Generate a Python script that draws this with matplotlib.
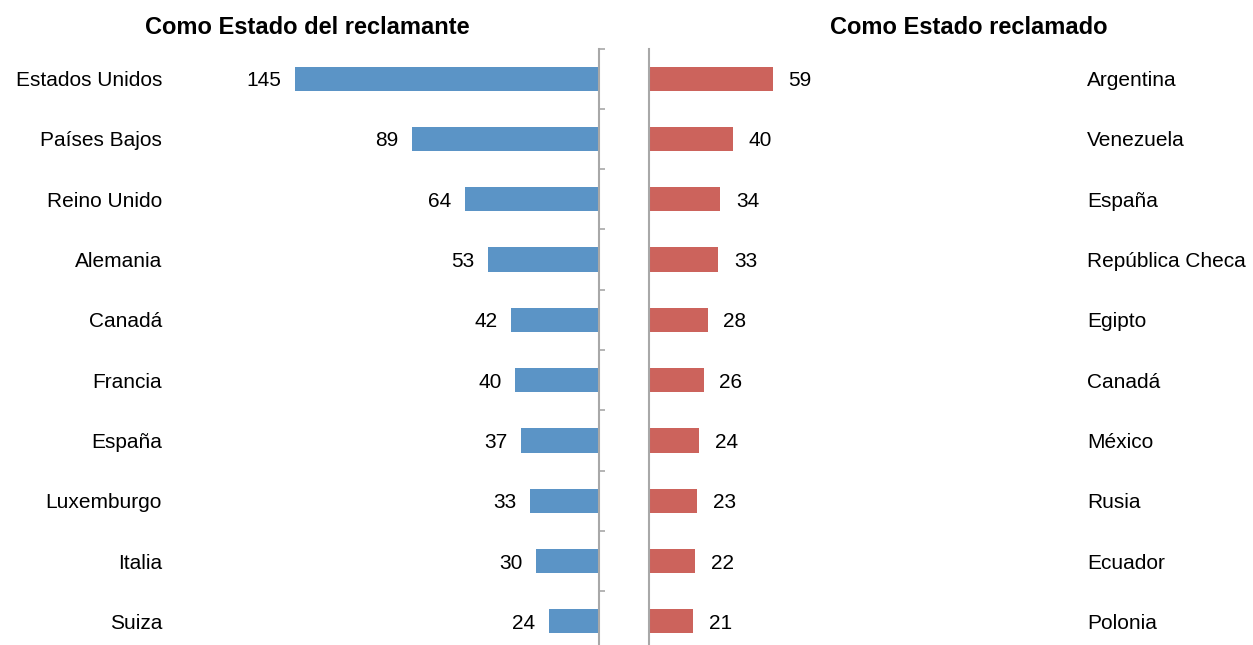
import numpy as np
import matplotlib
matplotlib.use("Agg")
import matplotlib.pyplot as plt
from matplotlib.transforms import blended_transform_factory

plt.rcParams["font.family"] = ["Liberation Sans", "DejaVu Sans"]

claimant_names = ["Estados Unidos", "Países Bajos", "Reino Unido", "Alemania", "Canadá",
                  "Francia", "España", "Luxemburgo", "Italia", "Suiza"]
claimant_vals = [145, 89, 64, 53, 42, 40, 37, 33, 30, 24]

respondent_names = ["Argentina", "Venezuela", "España", "República Checa", "Egipto",
                    "Canadá", "México", "Rusia", "Ecuador", "Polonia"]
respondent_vals = [59, 40, 34, 33, 28, 26, 24, 23, 22, 21]

C_BLUE = "#5b94c6"
C_RED = "#cc635c"
C_AXIS = "#a8a8a8"

W, H = 1253, 645
fig = plt.figure(figsize=(W / 100, H / 100), dpi=100)

xmax = 205
px_per_unit = 2.097
ax_w = xmax * px_per_unit
top_px, row_px = 48.5, 60.3
ax_h = 10 * row_px
bottom = 1 - (top_px + ax_h) / H

ax_l = fig.add_axes([(599 - ax_w) / W, bottom, ax_w / W, ax_h / H])
ax_r = fig.add_axes([649 / W, bottom, ax_w / W, ax_h / H])

y = np.arange(len(claimant_vals))

ax_l.barh(y, claimant_vals, height=0.4, color=C_BLUE)
ax_r.barh(y, respondent_vals, height=0.4, color=C_RED)

for ax in (ax_l, ax_r):
    ax.set_xlim(0, xmax)
    ax.set_ylim(9.5, -0.5)
    ax.set_xticks([])
    for s in ax.spines.values():
        s.set_visible(False)
ax_l.invert_xaxis()

ax_l.spines["right"].set_visible(True)
ax_l.spines["right"].set_color(C_AXIS)
ax_l.spines["right"].set_linewidth(1.5)
ax_l.yaxis.tick_right()
ax_l.set_yticks(np.arange(-0.5, 9, 1.0))
ax_l.tick_params(axis="y", direction="out", length=4, width=1.2, color=C_AXIS,
                 labelright=False, labelleft=False)

ax_r.spines["left"].set_visible(True)
ax_r.spines["left"].set_color(C_AXIS)
ax_r.spines["left"].set_linewidth(1.5)
ax_r.set_yticks([])

fs = 15
for i, v in enumerate(claimant_vals):
    ax_l.text(v + 6.5, i, str(v), ha="right", va="center_baseline", fontsize=fs)
for i, v in enumerate(respondent_vals):
    ax_r.text(v + 7.5, i, str(v), ha="left", va="center_baseline", fontsize=fs)

tl = blended_transform_factory(fig.transFigure, ax_l.transData)
tr = blended_transform_factory(fig.transFigure, ax_r.transData)
for i, name in enumerate(claimant_names):
    ax_l.text(162 / W, i, name, ha="right", va="center_baseline", fontsize=fs, transform=tl)
for i, name in enumerate(respondent_names):
    ax_r.text(1087 / W, i, name, ha="left", va="center_baseline", fontsize=fs, transform=tr)

fig.text(307 / W, 1 - 27 / H, "Como Estado del reclamante", ha="center", va="center",
         fontsize=17, fontweight="bold")
fig.text(969 / W, 1 - 27 / H, "Como Estado reclamado", ha="center", va="center",
         fontsize=17, fontweight="bold")

fig.savefig("out.png", dpi=100)
